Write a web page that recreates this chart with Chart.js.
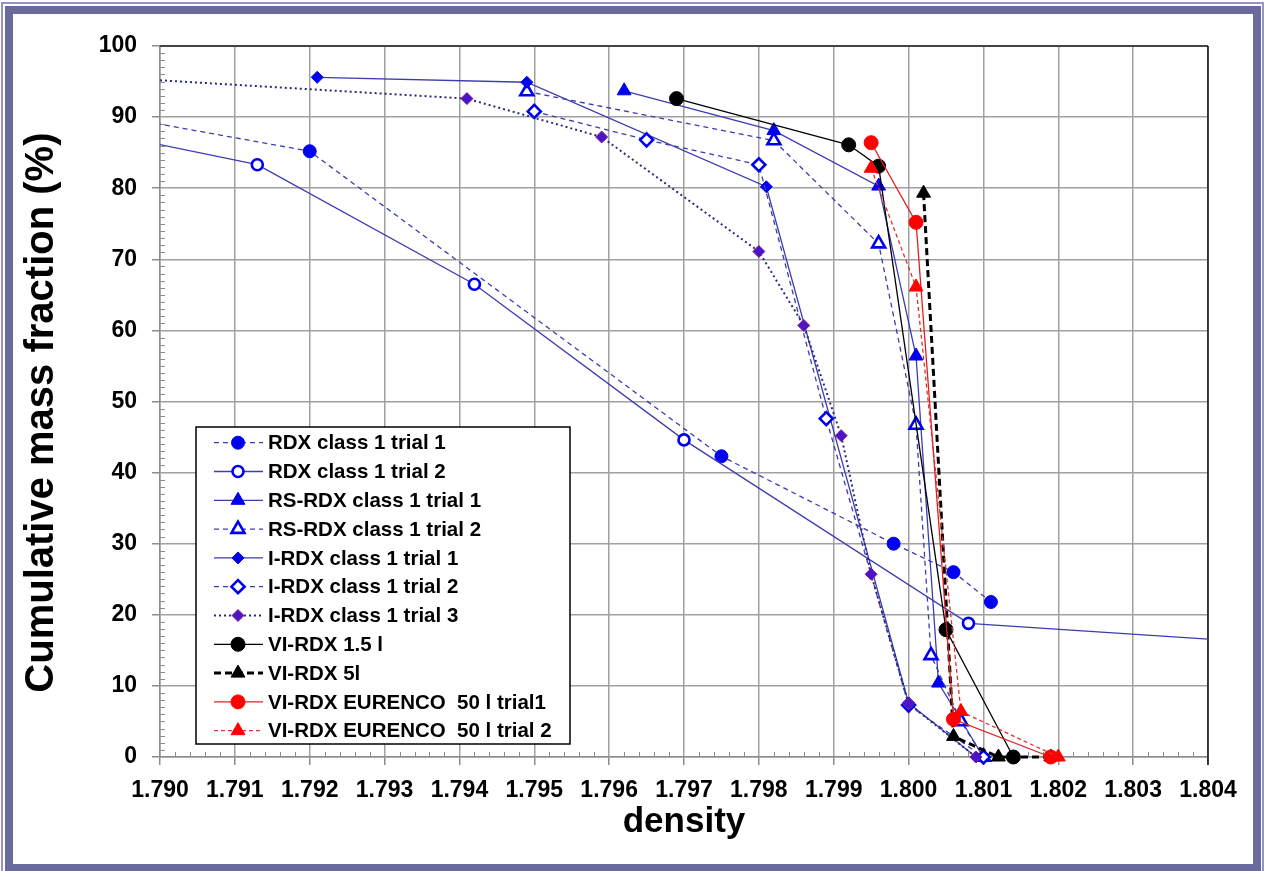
<!DOCTYPE html>
<html>
<head>
<meta charset="utf-8">
<title>Cumulative mass fraction vs density</title>
<script src="https://cdn.jsdelivr.net/npm/chart.js@4.4.0/dist/chart.umd.min.js"></script>
<style>
  html, body { margin: 0; padding: 0; background: #fff; }
  #wrap { position: relative; width: 1265px; height: 871px; overflow: hidden; background: #fff; }
  .frame1 { position: absolute; left: 1px; top: 2px; width: 1259px; height: 900px; border: 2px solid #9494c8; }
  .frame2 { position: absolute; left: 5px; top: 6px; width: 1240px; height: 850px; border: 8px solid #6a6a9c; }
  canvas { position: absolute; left: 0; top: 0; }
</style>
</head>
<body>
<div id="wrap">
  <div class="frame1"></div>
  <div class="frame2"></div>
  <canvas id="chart" width="1265" height="871"></canvas>
</div>
<script>
// tick labels
const xTicks = [1.790, 1.791, 1.792, 1.793, 1.794, 1.795, 1.796, 1.797, 1.798, 1.799, 1.800, 1.801, 1.802, 1.803, 1.804];
const yTicks = [0, 10, 20, 30, 40, 50, 60, 70, 80, 90, 100];

// series (density, cumulative %); first/last points of some lie outside the axis range
const rdx1X = [1.7890, 1.7920, 1.7975, 1.7998, 1.8006, 1.8011];
const rdx1Y = [90.9, 85.2, 42.3, 30.0, 26.0, 21.8];

const rdx2X = [1.7890, 1.7913, 1.7942, 1.7970, 1.8008, 1.8060];
const rdx2Y = [88.3, 83.3, 66.5, 44.6, 18.8, 15.2];

const rs1X = [1.7962, 1.7982, 1.7996, 1.8001, 1.8004, 1.8010];
const rs1Y = [93.7, 88.1, 80.3, 56.4, 10.4, 0];

const rs2X = [1.7949, 1.7982, 1.7996, 1.8001, 1.8003, 1.8007, 1.8010];
const rs2Y = [93.6, 86.7, 72.2, 46.7, 14.3, 5.0, 0];

const i1X = [1.7921, 1.7949, 1.7981, 1.8000, 1.8009];
const i1Y = [95.6, 94.9, 80.2, 7.6, 0];

const i2X = [1.7950, 1.7965, 1.7980, 1.7989, 1.8000, 1.8010];
const i2Y = [90.8, 86.8, 83.3, 47.6, 7.3, 0];

const i3X = [1.7890, 1.7941, 1.7959, 1.7980, 1.7986, 1.7991, 1.7995, 1.8000, 1.8009];
const i3Y = [95.8, 92.6, 87.2, 71.1, 60.7, 45.2, 25.7, 7.5, 0];

const vi15X = [1.7969, 1.7992, 1.7996, 1.8005, 1.8014];
const vi15Y = [92.6, 86.1, 83.1, 17.9, 0];

const vi5X = [1.8002, 1.8006, 1.8012, 1.8019];
const vi5Y = [79.3, 2.9, 0, 0];

const eur1X = [1.7995, 1.8001, 1.8006, 1.8019];
const eur1Y = [86.4, 75.2, 5.3, 0];

const eur2X = [1.7995, 1.8001, 1.8007, 1.8020];
const eur2Y = [82.8, 66.1, 6.4, 0];

const FONT = "'Liberation Sans', Arial, sans-serif";
const BLUE = '#0000f0';
const NAVY = '#3c3cb0';

function series(label, xs, ys, style) {
  return Object.assign({
    label: label,
    data: xs.map((x, i) => ({ x: x, y: ys[i] })),
    borderWidth: 1.3,
    pointBorderWidth: 1,
    tension: 0,
    fill: false,
    clip: { left: 0, right: 0, top: 0, bottom: 12 }
  }, style);
}

const datasets = [
  series('RDX class 1 trial 1', rdx1X, rdx1Y, {
    borderColor: NAVY, borderDash: [5, 4],
    pointStyle: 'circle', pointRadius: 6.5, pointBackgroundColor: BLUE, pointBorderColor: BLUE }),
  series('RDX class 1 trial 2', rdx2X, rdx2Y, {
    borderColor: NAVY,
    pointStyle: 'circle', pointRadius: 5.5, pointBackgroundColor: '#fff', pointBorderColor: BLUE, pointBorderWidth: 2.6 }),
  series('RS-RDX class 1 trial 1', rs1X, rs1Y, {
    borderColor: NAVY,
    pointStyle: 'triangle', pointRadius: 8, pointBackgroundColor: BLUE, pointBorderColor: BLUE }),
  series('RS-RDX class 1 trial 2', rs2X, rs2Y, {
    borderColor: NAVY, borderDash: [5, 4],
    pointStyle: 'triangle', pointRadius: 7.5, pointBackgroundColor: '#fff', pointBorderColor: BLUE, pointBorderWidth: 2.6 }),
  series('I-RDX class 1 trial 1', i1X, i1Y, {
    borderColor: NAVY,
    pointStyle: 'rectRot', pointRadius: 6, pointBackgroundColor: BLUE, pointBorderColor: BLUE }),
  series('I-RDX class 1 trial 2', i2X, i2Y, {
    borderColor: NAVY, borderDash: [5, 4],
    pointStyle: 'rectRot', pointRadius: 6.5, pointBackgroundColor: '#fff', pointBorderColor: BLUE, pointBorderWidth: 2.6 }),
  series('I-RDX class 1 trial 3', i3X, i3Y, {
    borderColor: '#2a2a80', borderWidth: 2, borderDash: [2, 3],
    pointStyle: 'rectRot', pointRadius: 6, pointBackgroundColor: '#4a14c8', pointBorderColor: '#8a1a90' }),
  series('VI-RDX 1.5 l', vi15X, vi15Y, {
    borderColor: '#000',
    pointStyle: 'circle', pointRadius: 7, pointBackgroundColor: '#000', pointBorderColor: '#000' }),
  series('VI-RDX 5l', vi5X, vi5Y, {
    borderColor: '#000', borderWidth: 3, borderDash: [7, 4],
    pointStyle: 'triangle', pointRadius: 8, pointBackgroundColor: '#000', pointBorderColor: '#000' }),
  series('VI-RDX EURENCO  50 l trial1', eur1X, eur1Y, {
    borderColor: '#e02020',
    pointStyle: 'circle', pointRadius: 7, pointBackgroundColor: '#ff0000', pointBorderColor: '#ff0000' }),
  series('VI-RDX EURENCO  50 l trial 2', eur2X, eur2Y, {
    borderColor: '#e03030', borderDash: [4, 3],
    pointStyle: 'triangle', pointRadius: 8, pointBackgroundColor: '#ff0000', pointBorderColor: '#ff0000' })
];
// later series sit on top, like in the original
datasets.forEach((d, i) => { d.order = datasets.length - i; });

const extras = {
  id: 'extras',
  beforeDatasetsDraw(chart) {
    const { ctx, chartArea: a, scales: { x, y } } = chart;
    ctx.save();
    ctx.strokeStyle = '#8c8c8c';
    ctx.lineWidth = 1;
    // minor ticks, pointing into the plot
    for (let i = 0; i < xTicks.length - 1; i++) {
      for (let k = 1; k < 5; k++) {
        const px = Math.round(x.getPixelForValue(xTicks[i] + (xTicks[i + 1] - xTicks[i]) * k / 5)) + 0.5;
        ctx.beginPath(); ctx.moveTo(px, a.bottom); ctx.lineTo(px, a.bottom - 5); ctx.stroke();
      }
    }
    for (let i = 0; i < yTicks.length - 1; i++) {
      for (let k = 1; k < 10; k++) {
        const py = Math.round(y.getPixelForValue(yTicks[i] + (yTicks[i + 1] - yTicks[i]) * k / 10)) + 0.5;
        ctx.beginPath(); ctx.moveTo(a.left, py); ctx.lineTo(a.left + 5, py); ctx.stroke();
      }
    }
    // dark top and right edges of the plot
    ctx.strokeStyle = '#444';
    ctx.lineWidth = 2;
    ctx.beginPath(); ctx.moveTo(a.left, a.top); ctx.lineTo(a.right, a.top); ctx.stroke();
    ctx.strokeStyle = '#111';
    ctx.lineWidth = 1.5;
    ctx.beginPath(); ctx.moveTo(a.right, a.top); ctx.lineTo(a.right, a.bottom + 8); ctx.stroke();
    ctx.restore();
  },
  afterDraw(chart) {
    const ctx = chart.ctx;
    const bx = 196, by = 427, bw = 374, bh = 317;
    ctx.save();
    ctx.fillStyle = '#fff';
    ctx.fillRect(bx, by, bw, bh);
    ctx.strokeStyle = '#000';
    ctx.lineWidth = 1.5;
    ctx.strokeRect(bx, by, bw, bh);
    chart.data.datasets.forEach((ds, i) => {
      const cy = 442.7 + i * 28.8;
      ctx.setLineDash(ds.borderDash || []);
      ctx.strokeStyle = ds.borderColor;
      ctx.lineWidth = ds.borderWidth;
      ctx.beginPath(); ctx.moveTo(214, cy); ctx.lineTo(263, cy); ctx.stroke();
      ctx.setLineDash([]);
      ctx.fillStyle = ds.pointBackgroundColor;
      ctx.strokeStyle = ds.pointBorderColor;
      ctx.lineWidth = ds.pointBorderWidth;
      Chart.helpers.drawPoint(ctx, {
        pointStyle: ds.pointStyle, radius: ds.pointRadius, borderWidth: ds.pointBorderWidth, rotation: 0
      }, 238, cy);
      ctx.fillStyle = '#000';
      ctx.font = 'bold 20.5px ' + FONT;
      ctx.textAlign = 'left';
      ctx.textBaseline = 'middle';
      ctx.fillText(ds.label, 268, cy + 1);
    });
    ctx.restore();
  }
};

new Chart(document.getElementById('chart'), {
  type: 'line',
  data: { datasets: datasets },
  plugins: [extras],
  options: {
    responsive: false,
    animation: false,
    devicePixelRatio: 1,
    layout: { padding: { left: 0, top: 46, right: 57, bottom: 0 } },
    plugins: {
      legend: { display: false },
      tooltip: { enabled: false }
    },
    scales: {
      x: {
        type: 'linear',
        min: 1.790,
        max: 1.804,
        afterBuildTicks: (s) => { s.ticks = xTicks.map((v) => ({ value: v })); },
        afterFit: (s) => { s.height = 114; },
        grid: { color: '#a0a0a0', lineWidth: 1.5, tickLength: 8, tickColor: '#8c8c8c' },
        border: { color: '#8c8c8c', width: 1.5 },
        ticks: {
          autoSkip: false,
          maxRotation: 0,
          padding: 12,
          color: '#000',
          font: { family: FONT, size: 23, weight: 'bold' },
          callback: (v) => Number(v).toFixed(3)
        },
        title: {
          display: true,
          text: 'density',
          color: '#000',
          font: { family: FONT, size: 35, weight: 'bold' },
          padding: { top: 0, bottom: 28 }
        }
      },
      y: {
        min: 0,
        max: 100,
        afterBuildTicks: (s) => { s.ticks = yTicks.map((v) => ({ value: v })); },
        afterFit: (s) => { s.width = 160; },
        grid: { color: '#a0a0a0', lineWidth: 1.5, tickLength: 8, tickColor: '#8c8c8c' },
        border: { color: '#8c8c8c', width: 1.5 },
        ticks: {
          padding: 15,
          color: '#000',
          font: { family: FONT, size: 23, weight: 'bold' }
        },
        title: {
          display: true,
          // two trailing spaces push the centred text down a little, as in the original
          text: 'Cumulative mass fraction (%)  ',
          color: '#000',
          font: { family: FONT, size: 40, weight: 'bold' },
          padding: { top: 18, bottom: 0 }
        }
      }
    }
  }
});
</script>
</body>
</html>
